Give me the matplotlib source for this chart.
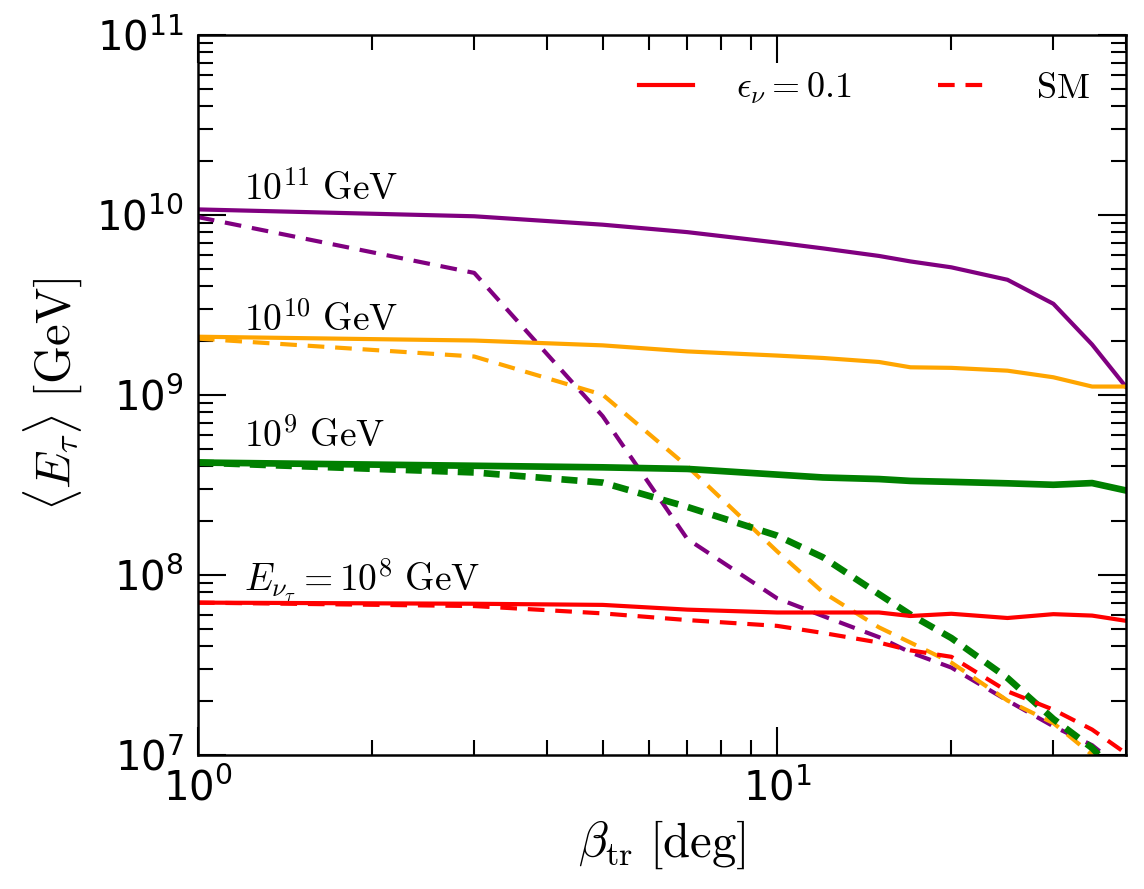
import numpy as np
import matplotlib
matplotlib.use("Agg")
import matplotlib.pyplot as plt

# beta_tr [deg]
beta = [1, 3, 5, 7, 10, 12, 15, 17, 20, 25, 30, 35, 40]

# <E_tau> [GeV], eps_nu = 0.1 (solid) and SM (dashed)
e11_eps = [1.07e10, 9.8e9, 8.8e9, 8.0e9, 7.0e9, 6.5e9, 5.9e9, 5.5e9, 5.1e9, 4.35e9, 3.2e9, 1.9e9, 1.11e9]
e11_sm = [9.7e9, 4.75e9, 7.6e8, 1.58e8, 7.4e7, 5.9e7, 4.5e7, 3.7e7, 3.05e7, 2.0e7, 1.44e7, 1.13e7, 8.0e6]
e10_eps = [2.1e9, 2.0e9, 1.88e9, 1.74e9, 1.65e9, 1.6e9, 1.52e9, 1.42e9, 1.41e9, 1.36e9, 1.25e9, 1.11e9, 1.11e9]
e10_sm = [2.05e9, 1.63e9, 1.0e9, 4.0e8, 1.35e8, 8.0e7, 5.1e7, 4.2e7, 3.25e7, 2.0e7, 1.5e7, 1.0e7, 6.3e6]
e9_eps = [4.2e8, 4.03e8, 3.95e8, 3.87e8, 3.6e8, 3.47e8, 3.4e8, 3.32e8, 3.28e8, 3.22e8, 3.16e8, 3.23e8, 2.94e8]
e9_sm = [4.2e8, 3.7e8, 3.25e8, 2.38e8, 1.65e8, 1.25e8, 7.8e7, 6.0e7, 4.45e7, 2.67e7, 1.58e7, 1.09e7, 7.0e6]
e8_eps = [7.0e7, 6.9e7, 6.8e7, 6.4e7, 6.17e7, 6.17e7, 6.17e7, 5.9e7, 6.07e7, 5.75e7, 6.04e7, 5.93e7, 5.55e7]
e8_sm = [7.0e7, 6.7e7, 6.1e7, 5.6e7, 5.2e7, 4.75e7, 4.2e7, 3.8e7, 3.5e7, 2.25e7, 1.78e7, 1.38e7, 1.02e7]

labels = [r"$10^{11}\ \mathrm{GeV}$", r"$10^{10}\ \mathrm{GeV}$",
          r"$10^{9}\ \mathrm{GeV}$", r"$E_{\nu_\tau}=10^{8}\ \mathrm{GeV}$"]
label_y = [1.2e10, 2.25e9, 5.1e8, 8.1e7]

plt.rcParams['font.family'] = 'DejaVu Sans'

fig = plt.figure(figsize=(11.44, 8.89), dpi=100)
ax = fig.add_axes([0.173, 0.151, 0.811, 0.810])

thin_dash = (0, (4, 2.6))
thick_dash = (0, (2.4, 1.5))
curves = [
    (e11_eps, e11_sm, 'purple', 3.0, thin_dash),
    (e10_eps, e10_sm, 'orange', 3.0, thin_dash),
    (e9_eps, e9_sm, 'green', 4.8, thick_dash),
    (e8_eps, e8_sm, 'red', 3.0, thin_dash),
]
for eps, sm, c, lw, dash in curves:
    ax.plot(beta, eps, color=c, lw=lw, ls='-')
    ax.plot(beta, sm, color=c, lw=lw, ls=dash)

for txt, yy in zip(labels, label_y):
    ax.text(1.2, yy, txt, fontsize=27, math_fontfamily='cm', ha='left', va='baseline')

ax.set_xscale('log')
ax.set_yscale('log')
ax.set_xlim(1, 40)
ax.set_ylim(1e7, 1e11)

ax.tick_params(which='both', direction='in', top=True, right=True, width=1.5)
ax.tick_params(which='major', length=20, labelsize=29, pad=10)
ax.tick_params(which='minor', length=11)
for lab in ax.get_xticklabels() + ax.get_yticklabels():
    lab.set_math_fontfamily('dejavusans')
for s in ax.spines.values():
    s.set_linewidth(1.8)

ax.set_xlabel(r"$\beta_{\mathrm{tr}}\ [\mathrm{deg}]$", fontsize=35, math_fontfamily='cm', labelpad=6)
ax.set_ylabel(r"$\langle E_\tau \rangle\ [\mathrm{GeV}]$", fontsize=35, math_fontfamily='cm', labelpad=8)

h1, = ax.plot([], [], color='red', lw=3, ls='-')
h2, = ax.plot([], [], color='red', lw=3, ls=thin_dash)
leg = ax.legend([h1, h2], [r"$\epsilon_\nu=0.1$", r"$\mathrm{SM}$"], loc='upper right',
                ncol=2, frameon=False, fontsize=26, handlelength=1.5, columnspacing=2.4,
                handletextpad=1.2, borderaxespad=0.6)
for t in leg.get_texts():
    t.set_math_fontfamily('cm')

fig.savefig('out.png', dpi=100)
